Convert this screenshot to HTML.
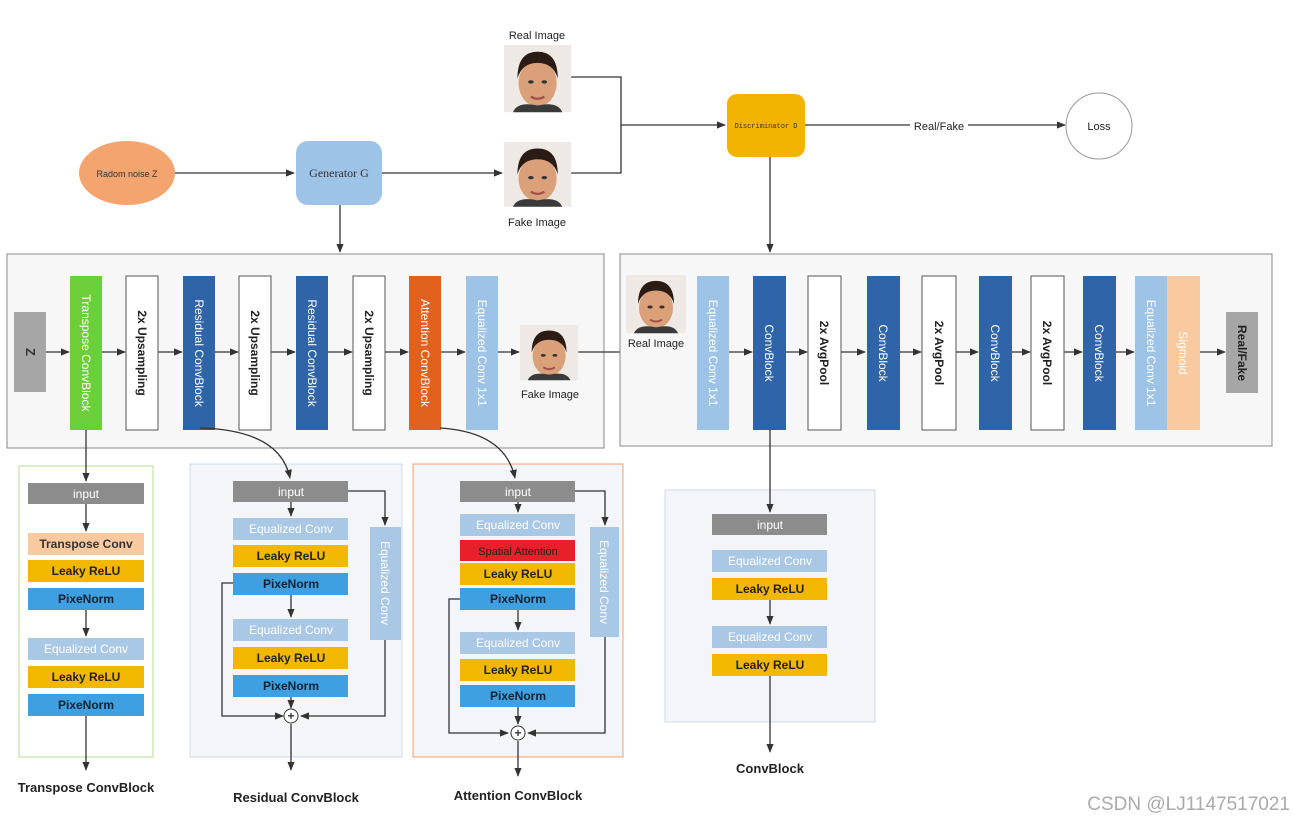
<!DOCTYPE html>
<html><head><meta charset="utf-8"><style>
html,body{margin:0;padding:0;background:#fff}
svg{display:block}
text{font-family:"Liberation Sans",sans-serif}
</style></head><body>
<svg width="1294" height="825" viewBox="0 0 1294 825" xmlns="http://www.w3.org/2000/svg">
<defs>
<marker id="a" viewBox="0 0 10 10" refX="9" refY="5" markerWidth="7" markerHeight="7" orient="auto"><path d="M0,1 L10,5 L0,9 z" fill="#333"/></marker>
<g id="face">
<rect x="0" y="0" width="60" height="60" fill="#eee9e4"/>
<ellipse cx="30" cy="34" rx="17" ry="21" fill="#d9a07a"/>
<path d="M12,30 Q12,6 30,6 Q48,6 48,30 Q44,16 30,16 Q16,16 12,30z" fill="#2a1c14"/>
<path d="M8,60 Q12,50 30,54 Q48,50 52,60z" fill="#3a3a3a"/>
<ellipse cx="24" cy="33" rx="2.5" ry="1.5" fill="#333"/><ellipse cx="36" cy="33" rx="2.5" ry="1.5" fill="#333"/>
<path d="M24,46 Q30,50 36,46" stroke="#a0504a" stroke-width="2" fill="none"/>
</g>
</defs>
<g stroke="#333" stroke-width="1.3" fill="none">
<line x1="175" y1="173" x2="294" y2="173" marker-end="url(#a)"/>
<line x1="382" y1="173" x2="502" y2="173" marker-end="url(#a)"/>
<polyline points="571,77 621,77 621,173 571,173"/>
<line x1="621" y1="125" x2="725" y2="125" marker-end="url(#a)"/>
<line x1="805" y1="125" x2="910" y2="125"/>
<line x1="968" y1="125" x2="1065" y2="125" marker-end="url(#a)"/>
<line x1="340" y1="205" x2="340" y2="252" marker-end="url(#a)"/>
<line x1="770" y1="157" x2="770" y2="252" marker-end="url(#a)"/>
</g>
<ellipse cx="127" cy="173" rx="48" ry="32" fill="#f4a46e"/>
<text x="127" y="177" font-size="9" text-anchor="middle" fill="#333">Radom noise Z</text>
<rect x="296" y="141" width="86" height="64" rx="12" fill="#9dc3e6"/>
<text x="339" y="177" text-anchor="middle" fill="#333" style="font-family:'Liberation Serif',serif;font-size:12px">Generator G</text>
<use href="#face" transform="translate(504,45) scale(1.12,1.12)"/>
<use href="#face" transform="translate(504,142) scale(1.12,1.08)"/>
<text x="537" y="39" font-size="11" text-anchor="middle" fill="#222">Real Image</text>
<text x="537" y="226" font-size="11" text-anchor="middle" fill="#222">Fake Image</text>
<rect x="727" y="94" width="78" height="63" rx="10" fill="#f2b400"/>
<text x="766" y="128" text-anchor="middle" fill="#333" style="font-family:'Liberation Mono',monospace;font-size:7px">Discriminator D</text>
<text x="939" y="130" font-size="11" text-anchor="middle" fill="#222">Real/Fake</text>
<circle cx="1099" cy="126" r="33" fill="#fff" stroke="#999"/>
<text x="1099" y="130" font-size="11" text-anchor="middle" fill="#222">Loss</text>

<rect x="7" y="254" width="597" height="194" fill="#f7f7f7" stroke="#888"/>
<g stroke="#333" stroke-width="1.3">
<line x1="46" y1="352" x2="69" y2="352" marker-end="url(#a)"/>
<line x1="102" y1="352" x2="125" y2="352" marker-end="url(#a)"/>
<line x1="158" y1="352" x2="182" y2="352" marker-end="url(#a)"/>
<line x1="215" y1="352" x2="238" y2="352" marker-end="url(#a)"/>
<line x1="271" y1="352" x2="295" y2="352" marker-end="url(#a)"/>
<line x1="328" y1="352" x2="352" y2="352" marker-end="url(#a)"/>
<line x1="385" y1="352" x2="408" y2="352" marker-end="url(#a)"/>
<line x1="441" y1="352" x2="465" y2="352" marker-end="url(#a)"/>
<line x1="498" y1="352" x2="519" y2="352" marker-end="url(#a)"/>
<line x1="578" y1="352" x2="696" y2="352" marker-end="url(#a)"/>
</g>
<rect x="14" y="312" width="32" height="80" fill="#a6a6a6"/>
<text transform="translate(30,352) rotate(90)" font-size="13" font-weight="bold" text-anchor="middle" dy="4" fill="#333">Z</text>
<rect x="70" y="276" width="32" height="154" fill="#6ccf3a"/>
<text transform="translate(86,353) rotate(90)" font-size="12" text-anchor="middle" dy="4" fill="#fff">Transpose ConvBlock</text>
<g fill="#fff" stroke="#555">
<rect x="126" y="276" width="32" height="154"/><rect x="239" y="276" width="32" height="154"/><rect x="353" y="276" width="32" height="154"/>
</g>
<g font-size="12" font-weight="bold" text-anchor="middle" fill="#222">
<text transform="translate(142,353) rotate(90)" dy="4">2x Upsampling</text>
<text transform="translate(255,353) rotate(90)" dy="4">2x Upsampling</text>
<text transform="translate(369,353) rotate(90)" dy="4">2x Upsampling</text>
</g>
<rect x="183" y="276" width="32" height="154" fill="#2f65a8"/>
<rect x="296" y="276" width="32" height="154" fill="#2f65a8"/>
<rect x="409" y="276" width="32" height="154" fill="#e0621e"/>
<rect x="466" y="276" width="32" height="154" fill="#9dc3e6"/>
<g font-size="12" text-anchor="middle" fill="#fff">
<text transform="translate(199,353) rotate(90)" dy="4">Residual ConvBlock</text>
<text transform="translate(312,353) rotate(90)" dy="4">Residual ConvBlock</text>
<text transform="translate(425,353) rotate(90)" dy="4">Attention ConvBlock</text>
<text transform="translate(482,353) rotate(90)" dy="4">Equalized Conv 1x1</text>
</g>
<use href="#face" transform="translate(520,325) scale(0.97,0.92)"/>
<text x="550" y="398" font-size="11" text-anchor="middle" fill="#222">Fake Image</text>

<rect x="620" y="254" width="652" height="192" fill="#f7f7f7" stroke="#888"/>
<use href="#face" transform="translate(626,275) scale(1,0.97)"/>
<g stroke="#333" stroke-width="1.3">
<line x1="729" y1="352" x2="752" y2="352" marker-end="url(#a)"/>
<line x1="786" y1="352" x2="807" y2="352" marker-end="url(#a)"/>
<line x1="841" y1="352" x2="865" y2="352" marker-end="url(#a)"/>
<line x1="900" y1="352" x2="921" y2="352" marker-end="url(#a)"/>
<line x1="956" y1="352" x2="978" y2="352" marker-end="url(#a)"/>
<line x1="1012" y1="352" x2="1030" y2="352" marker-end="url(#a)"/>
<line x1="1064" y1="352" x2="1082" y2="352" marker-end="url(#a)"/>
<line x1="1116" y1="352" x2="1134" y2="352" marker-end="url(#a)"/>
<line x1="1200" y1="352" x2="1225" y2="352" marker-end="url(#a)"/>
</g>
<text x="656" y="347" font-size="11" text-anchor="middle" fill="#222">Real Image</text>
<rect x="697" y="276" width="32" height="154" fill="#9dc3e6"/>
<rect x="1135" y="276" width="32" height="154" fill="#9dc3e6"/>
<rect x="1167" y="276" width="33" height="154" fill="#f9c9a0"/>
<g fill="#2f65a8">
<rect x="753" y="276" width="33" height="154"/><rect x="867" y="276" width="33" height="154"/><rect x="979" y="276" width="33" height="154"/><rect x="1083" y="276" width="33" height="154"/>
</g>
<g fill="#fff" stroke="#555">
<rect x="808" y="276" width="33" height="154"/><rect x="922" y="276" width="34" height="154"/><rect x="1031" y="276" width="33" height="154"/>
</g>
<rect x="1226" y="312" width="32" height="81" fill="#a6a6a6"/>
<g font-size="12" text-anchor="middle" fill="#fff">
<text transform="translate(713,353) rotate(90)" dy="4">Equalized Conv 1x1</text>
<text transform="translate(1151,353) rotate(90)" dy="4">Equalized Conv 1x1</text>
<text transform="translate(1183,353) rotate(90)" dy="4">Sigmoid</text>
<text transform="translate(769,353) rotate(90)" dy="4">ConvBlock</text>
<text transform="translate(883,353) rotate(90)" dy="4">ConvBlock</text>
<text transform="translate(995,353) rotate(90)" dy="4">ConvBlock</text>
<text transform="translate(1099,353) rotate(90)" dy="4">ConvBlock</text>
</g>
<g font-size="12" font-weight="bold" text-anchor="middle" fill="#222">
<text transform="translate(824,353) rotate(90)" dy="4">2x AvgPool</text>
<text transform="translate(939,353) rotate(90)" dy="4">2x AvgPool</text>
<text transform="translate(1047,353) rotate(90)" dy="4">2x AvgPool</text>
<text transform="translate(1242,353) rotate(90)" dy="4">Real/Fake</text>
</g>

<rect x="19" y="466" width="134" height="291" fill="#fff" stroke="#b5dc95"/>
<rect x="190" y="464" width="212" height="293" fill="#f3f5f8" stroke="#cfdbe8"/>
<rect x="413" y="464" width="210" height="293" fill="#f3f5f8" stroke="#f0a070"/>
<rect x="665" y="490" width="210" height="232" fill="#f3f5f8" stroke="#cfdbe8"/>

<g stroke="#333" stroke-width="1.3" fill="none">
<line x1="86" y1="430" x2="86" y2="481" marker-end="url(#a)"/>
<line x1="86" y1="504" x2="86" y2="531" marker-end="url(#a)"/>
<line x1="86" y1="610" x2="86" y2="636" marker-end="url(#a)"/>
<line x1="86" y1="716" x2="86" y2="770" marker-end="url(#a)"/>
<path d="M200,428 Q280,430 290,478" marker-end="url(#a)"/>
<path d="M440,428 Q505,432 515,478" marker-end="url(#a)"/>
<line x1="291" y1="502" x2="291" y2="516" marker-end="url(#a)"/>
<line x1="291" y1="595" x2="291" y2="617" marker-end="url(#a)"/>
<line x1="291" y1="697" x2="291" y2="708" marker-end="url(#a)"/>
<polyline points="348,491 385,491 385,525" marker-end="url(#a)"/>
<polyline points="385,640 385,716 301,716" marker-end="url(#a)"/>
<polyline points="233,583 222,583 222,716 283,716" marker-end="url(#a)"/>
<line x1="291" y1="724" x2="291" y2="770" marker-end="url(#a)"/>
<line x1="518" y1="502" x2="518" y2="512" marker-end="url(#a)"/>
<line x1="518" y1="610" x2="518" y2="630" marker-end="url(#a)"/>
<line x1="518" y1="707" x2="518" y2="724" marker-end="url(#a)"/>
<polyline points="575,491 605,491 605,525" marker-end="url(#a)"/>
<polyline points="605,637 605,733 528,733" marker-end="url(#a)"/>
<polyline points="460,599 449,599 449,733 508,733" marker-end="url(#a)"/>
<line x1="518" y1="741" x2="518" y2="776" marker-end="url(#a)"/>
<line x1="770" y1="430" x2="770" y2="512" marker-end="url(#a)"/>
<line x1="770" y1="600" x2="770" y2="624" marker-end="url(#a)"/>
<line x1="770" y1="676" x2="770" y2="752" marker-end="url(#a)"/>
</g>
<g fill="#fff" stroke="#333"><circle cx="291" cy="716" r="7"/><circle cx="518" cy="733" r="7"/></g>
<g font-size="12" font-weight="bold" text-anchor="middle" fill="#333"><text x="291" y="720">+</text><text x="518" y="737">+</text></g>

<g font-size="12" text-anchor="middle">
<rect x="28" y="483" width="116" height="21" fill="#8c8c8c"/><text x="86" y="498" fill="#fff">input</text>
<rect x="28" y="533" width="116" height="22" fill="#f9c9a0"/><text x="86" y="548" fill="#333" font-weight="bold">Transpose Conv</text>
<rect x="28" y="560" width="116" height="22" fill="#f2b800"/><text x="86" y="575" fill="#222" font-weight="bold">Leaky ReLU</text>
<rect x="28" y="588" width="116" height="22" fill="#3ea0e0"/><text x="86" y="603" fill="#123" font-weight="bold">PixeNorm</text>
<rect x="28" y="638" width="116" height="22" fill="#a9c8e6"/><text x="86" y="653" fill="#fff">Equalized Conv</text>
<rect x="28" y="666" width="116" height="22" fill="#f2b800"/><text x="86" y="681" fill="#222" font-weight="bold">Leaky ReLU</text>
<rect x="28" y="694" width="116" height="22" fill="#3ea0e0"/><text x="86" y="709" fill="#123" font-weight="bold">PixeNorm</text>
<rect x="233" y="481" width="115" height="21" fill="#8c8c8c"/><text x="291" y="496" fill="#fff">input</text>
<rect x="233" y="518" width="115" height="22" fill="#a9c8e6"/><text x="291" y="533" fill="#fff">Equalized Conv</text>
<rect x="233" y="545" width="115" height="22" fill="#f2b800"/><text x="291" y="560" fill="#222" font-weight="bold">Leaky ReLU</text>
<rect x="233" y="573" width="115" height="22" fill="#3ea0e0"/><text x="291" y="588" fill="#123" font-weight="bold">PixeNorm</text>
<rect x="233" y="619" width="115" height="22" fill="#a9c8e6"/><text x="291" y="634" fill="#fff">Equalized Conv</text>
<rect x="233" y="647" width="115" height="22" fill="#f2b800"/><text x="291" y="662" fill="#222" font-weight="bold">Leaky ReLU</text>
<rect x="233" y="675" width="115" height="22" fill="#3ea0e0"/><text x="291" y="690" fill="#123" font-weight="bold">PixeNorm</text>
<rect x="370" y="527" width="31" height="113" fill="#a9c8e6"/><text transform="translate(385,583) rotate(90)" dy="4" fill="#fff">Equalized Conv</text>
<rect x="460" y="481" width="115" height="21" fill="#8c8c8c"/><text x="518" y="496" fill="#fff">input</text>
<rect x="460" y="514" width="115" height="22" fill="#a9c8e6"/><text x="518" y="529" fill="#fff">Equalized Conv</text>
<rect x="460" y="540" width="115" height="21" fill="#e8202a"/><text x="518" y="555" fill="#222" font-size="11">Spatial Attention</text>
<rect x="460" y="563" width="115" height="22" fill="#f2b800"/><text x="518" y="578" fill="#222" font-weight="bold">Leaky ReLU</text>
<rect x="460" y="588" width="115" height="22" fill="#3ea0e0"/><text x="518" y="603" fill="#123" font-weight="bold">PixeNorm</text>
<rect x="460" y="632" width="115" height="22" fill="#a9c8e6"/><text x="518" y="647" fill="#fff">Equalized Conv</text>
<rect x="460" y="659" width="115" height="22" fill="#f2b800"/><text x="518" y="674" fill="#222" font-weight="bold">Leaky ReLU</text>
<rect x="460" y="685" width="115" height="22" fill="#3ea0e0"/><text x="518" y="700" fill="#123" font-weight="bold">PixeNorm</text>
<rect x="590" y="527" width="29" height="110" fill="#a9c8e6"/><text transform="translate(604,582) rotate(90)" dy="4" fill="#fff">Equalized Conv</text>
<rect x="712" y="514" width="115" height="21" fill="#8c8c8c"/><text x="770" y="529" fill="#fff">input</text>
<rect x="712" y="550" width="115" height="22" fill="#a9c8e6"/><text x="770" y="565" fill="#fff">Equalized Conv</text>
<rect x="712" y="578" width="115" height="22" fill="#f2b800"/><text x="770" y="593" fill="#222" font-weight="bold">Leaky ReLU</text>
<rect x="712" y="626" width="115" height="22" fill="#a9c8e6"/><text x="770" y="641" fill="#fff">Equalized Conv</text>
<rect x="712" y="654" width="115" height="22" fill="#f2b800"/><text x="770" y="669" fill="#222" font-weight="bold">Leaky ReLU</text>
</g>
<g font-size="13" font-weight="bold" text-anchor="middle" fill="#222">
<text x="86" y="792">Transpose ConvBlock</text>
<text x="296" y="802">Residual ConvBlock</text>
<text x="518" y="800">Attention ConvBlock</text>
<text x="770" y="773">ConvBlock</text>
</g>
<text x="1290" y="810" font-size="19" text-anchor="end" fill="#aaa">CSDN @LJ1147517021</text>
</svg>
</body></html>
